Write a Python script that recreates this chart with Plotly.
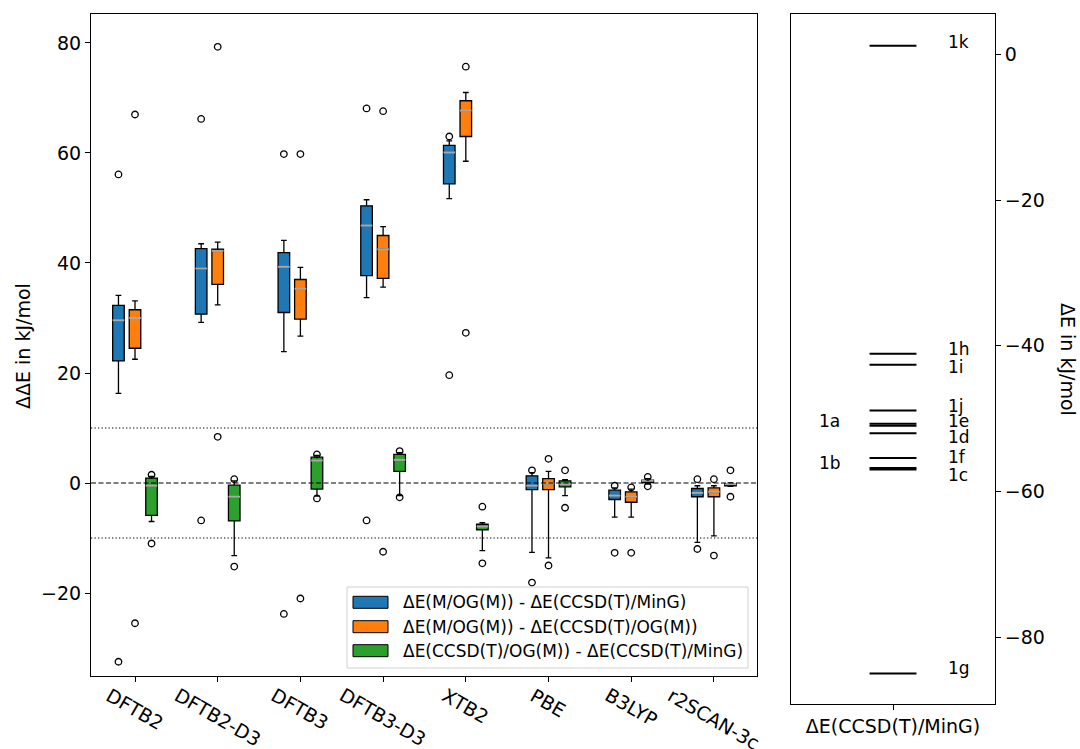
import plotly.graph_objects as go

# ---------------- data ----------------
methods = ["DFTB2", "DFTB2-D3", "DFTB3", "DFTB3-D3", "XTB2", "PBE", "B3LYP", "r2SCAN-3c"]

series_names = [
    "ΔE(M/OG(M)) - ΔE(CCSD(T)/MinG)",
    "ΔE(M/OG(M)) - ΔE(CCSD(T)/OG(M))",
    "ΔE(CCSD(T)/OG(M)) - ΔE(CCSD(T)/MinG)",
]

# series 1: ΔE(M/OG(M)) - ΔE(CCSD(T)/MinG)
s1_lower = [16.3, 29.2, 23.9, 33.7, 51.7, -12.6, -6.2, -10.8]
s1_q1 = [22.2, 30.7, 31.0, 37.7, 54.4, -1.2, -3.0, -2.5]
s1_median = [29.6, 39.0, 39.3, 46.8, 60.1, -0.5, -2.3, -1.8]
s1_q3 = [32.3, 42.6, 41.9, 50.4, 61.4, 1.3, -1.3, -1.0]
s1_upper = [34.1, 43.5, 44.1, 51.5, 62.2, 1.9, -0.9, -0.5]
s1_outliers = [[56.1, -32.5], [66.2, -6.8], [59.8, -23.8], [68.1, -6.8],
               [63.0, 19.6], [2.3, -18.1], [-0.5, -12.7], [0.7, -12.0]]

# series 2: ΔE(M/OG(M)) - ΔE(CCSD(T)/OG(M))
s2_lower = [22.5, 32.4, 26.7, 35.6, 58.5, -13.6, -6.2, -9.6]
s2_q1 = [24.5, 36.1, 29.8, 37.2, 63.0, -1.2, -3.5, -2.5]
s2_median = [30.0, 42.2, 35.3, 42.5, 67.7, -0.1, -2.5, -1.6]
s2_q3 = [31.5, 42.5, 37.0, 45.0, 69.5, 0.8, -1.6, -0.9]
s2_upper = [33.1, 43.8, 39.2, 46.6, 71.0, 2.1, -1.1, -0.5]
s2_outliers = [[67.0, -25.5], [79.3, 8.4], [59.8, -21.0], [67.6, -12.5],
               [75.7, 27.3], [4.4, -15.0], [-0.8, -12.7], [0.7, -13.2]]

# series 3: ΔE(CCSD(T)/OG(M)) - ΔE(CCSD(T)/MinG)
s3_lower = [-7.0, -13.2, -2.4, -2.3, -12.3, -2.3, -0.2, -0.6]
s3_q1 = [-5.9, -6.9, -1.1, 2.1, -8.5, -0.7, 0.06, -0.5]
s3_median = [-0.5, -2.5, 4.1, 4.2, -7.9, -0.2, 0.4, -0.2]
s3_q3 = [0.9, -0.4, 4.7, 5.2, -7.5, 0.4, 0.5, -0.1]
s3_upper = [1.2, 0.4, 5.0, 5.5, -7.2, 0.6, 0.8, 0.0]
s3_outliers = [[1.5, -11.0], [0.7, -15.2], [5.2, -2.8], [5.8, -2.6],
               [-4.3, -14.6], [2.3, -4.5], [1.1, -0.6], [2.3, -2.5]]

# reference lines (kJ/mol)
zero_line = 0
tolerance = 10

# conformer energies ΔE(CCSD(T)/MinG)
level_names = ["1k", "1h", "1i", "1j", "1a", "1e", "1d", "1f", "1b", "1c", "1g"]
level_values = [1.2, -41.1, -42.6, -48.9, -50.7, -51.0, -52.0, -55.4, -56.8, -57.0, -85.0]

# ---------------- style / layout ----------------
W, H = 1080, 749
FONT = "DejaVu Sans"
colors = ["#1f77b4", "#ff7f0e", "#2ca02c"]
offsets = [-0.2, 0.0, 0.2]
box_w = 0.14
median_color = "#a8a8a8"

left_px = (91, 757)
right_px = (791, 995)
top_px = 14
left_bottom_px = 676
right_bottom_px = 704

left_labeled = {"1a", "1b"}
label_nudge = {"1k": 4, "1h": 4.4, "1i": -2.1, "1j": 4.5, "1a": 3, "1e": 5,
               "1d": -4.2, "1f": 1.1, "1b": 4.7, "1c": -5.5, "1g": 5}

# legend box geometry (pixels)
leg_box = (347, 587, 748, 668)
leg_patch_x = (353, 388)
leg_patch_h = 12
leg_rows = [602.3, 626.7, 650.7]
leg_text_x = 401


def px(x):
    return x / W


def py(y):
    return 1 - y / H


series = [
    (s1_lower, s1_q1, s1_median, s1_q3, s1_upper, s1_outliers),
    (s2_lower, s2_q1, s2_median, s2_q3, s2_upper, s2_outliers),
    (s3_lower, s3_q1, s3_median, s3_q3, s3_upper, s3_outliers),
]

fig = go.Figure()
centers = list(range(1, len(methods) + 1))

for k, (lo, q1, med, q3, hi, outs) in enumerate(series):
    pos = [c + offsets[k] for c in centers]
    fig.add_trace(go.Box(
        x=pos, q1=q1, median=med, q3=q3, lowerfence=lo, upperfence=hi,
        width=box_w, whiskerwidth=0.5, boxpoints=False,
        fillcolor=colors[k], line=dict(color="black", width=1.3),
        name=series_names[k], xaxis="x", yaxis="y", hoverinfo="skip",
        showlegend=False,
    ))

for k, (lo, q1, med, q3, hi, outs) in enumerate(series):
    pos = [c + offsets[k] for c in centers]
    mx, my = [], []
    for p, m in zip(pos, med):
        mx += [p - box_w / 2, p + box_w / 2, None]
        my += [m, m, None]
    fig.add_trace(go.Scatter(x=mx, y=my, mode="lines",
                             line=dict(color=median_color, width=2),
                             showlegend=False, hoverinfo="skip", xaxis="x", yaxis="y"))
    ox, oy = [], []
    for p, vals in zip(pos, outs):
        for v in vals:
            ox.append(p)
            oy.append(v)
    fig.add_trace(go.Scatter(x=ox, y=oy, mode="markers",
                             marker=dict(symbol="circle-open", size=6.5, color="black",
                                         line=dict(width=1.3, color="black")),
                             showlegend=False, hoverinfo="skip", xaxis="x", yaxis="y"))

# energy levels
lx, ly = [], []
for v in level_values:
    lx += [0.385, 0.615, None]
    ly += [v, v, None]
fig.add_trace(go.Scatter(x=lx, y=ly, mode="lines", line=dict(color="black", width=2),
                         showlegend=False, hoverinfo="skip", xaxis="x2", yaxis="y2"))

annotations = []
for name, v in zip(level_names, level_values):
    annotations.append(dict(
        x=0.128 if name in left_labeled else 0.76, y=v, xref="x2", yref="y2",
        text=name, showarrow=False, xanchor="left", yanchor="middle",
        yshift=label_nudge.get(name, 4), font=dict(family=FONT, size=17, color="black")))

# rotated method labels
y_left_bottom = 1 - left_bottom_px / H
for c, m in zip(centers, methods):
    annotations.append(dict(
        x=c, y=y_left_bottom, xref="x", yref="paper", text=m, showarrow=False,
        xanchor="center", yanchor="top", textangle=30, yshift=-5,
        font=dict(family=FONT, size=19, color="black")))

# axis titles
annotations.append(dict(x=23 / W, y=1 - 346 / H, xref="paper", yref="paper",
                        text="ΔΔE in kJ/mol", showarrow=False, textangle=-90,
                        xanchor="center", yanchor="middle",
                        font=dict(family=FONT, size=19, color="black")))
annotations.append(dict(x=1068 / W, y=1 - 359 / H, xref="paper", yref="paper",
                        text="ΔE in kJ/mol", showarrow=False, textangle=90,
                        xanchor="center", yanchor="middle",
                        font=dict(family=FONT, size=19, color="black")))

shapes = [
    dict(type="line", xref="x domain", yref="y", x0=0, x1=1, y0=zero_line, y1=zero_line,
         line=dict(color="black", width=1.2, dash="5px,2.5px")),
    dict(type="line", xref="x domain", yref="y", x0=0, x1=1, y0=tolerance, y1=tolerance,
         line=dict(color="black", width=1, dash="1.3px,2.2px")),
    dict(type="line", xref="x domain", yref="y", x0=0, x1=1, y0=-tolerance, y1=-tolerance,
         line=dict(color="black", width=1, dash="1.3px,2.2px")),
]

# legend (drawn as shapes + text so patches match matplotlib's wide rectangles)
shapes.append(dict(type="rect", xref="paper", yref="paper",
                   x0=px(leg_box[0]), x1=px(leg_box[2]), y0=py(leg_box[3]), y1=py(leg_box[1]),
                   fillcolor="rgba(255,255,255,0.85)", line=dict(color="#d0d0d0", width=1),
                   layer="above"))
for k, yc in enumerate(leg_rows):
    shapes.append(dict(type="rect", xref="paper", yref="paper",
                       x0=px(leg_patch_x[0]), x1=px(leg_patch_x[1]),
                       y0=py(yc + leg_patch_h / 2), y1=py(yc - leg_patch_h / 2),
                       fillcolor=colors[k], line=dict(color="black", width=1), layer="above"))
    annotations.append(dict(x=px(leg_text_x), y=py(yc), xref="paper", yref="paper",
                            text=series_names[k], showarrow=False, xanchor="left",
                            yanchor="middle", font=dict(family=FONT, size=17, color="black")))

axis_common = dict(showline=True, linecolor="black", linewidth=1, mirror=True,
                   ticks="outside", ticklen=5, tickwidth=1, tickcolor="black",
                   showgrid=False, zeroline=False,
                   tickfont=dict(family=FONT, size=19, color="black"))

fig.update_layout(
    width=W, height=H,
    margin=dict(l=0, r=0, t=0, b=0),
    paper_bgcolor="white", plot_bgcolor="white",
    font=dict(family=FONT, color="black"),
    boxmode="overlay",
    showlegend=False,
    xaxis=dict(domain=[left_px[0] / W, left_px[1] / W], anchor="y",
               range=[0.468, 8.521], tickvals=centers, showticklabels=False,
               **axis_common),
    yaxis=dict(domain=[1 - left_bottom_px / H, 1 - top_px / H], anchor="x",
               range=[-35.09, 85.27], tickvals=[-20, 0, 20, 40, 60, 80],
               ticktext=["−20", "0", "20", "40", "60", "80"],
               **axis_common),
    xaxis2=dict(domain=[right_px[0] / W, right_px[1] / W], anchor="y2",
                range=[0, 1], tickvals=[0.5], ticktext=["ΔE(CCSD(T)/MinG)"],
                **axis_common),
    yaxis2=dict(domain=[1 - right_bottom_px / H, 1 - top_px / H], anchor="x2",
                side="right", range=[-89.2, 5.56], tickvals=[-80, -60, -40, -20, 0],
                ticktext=["−80", "−60", "−40", "−20", "0"],
                **axis_common),
    annotations=annotations,
    shapes=shapes,
)

fig.write_html("out.html")
